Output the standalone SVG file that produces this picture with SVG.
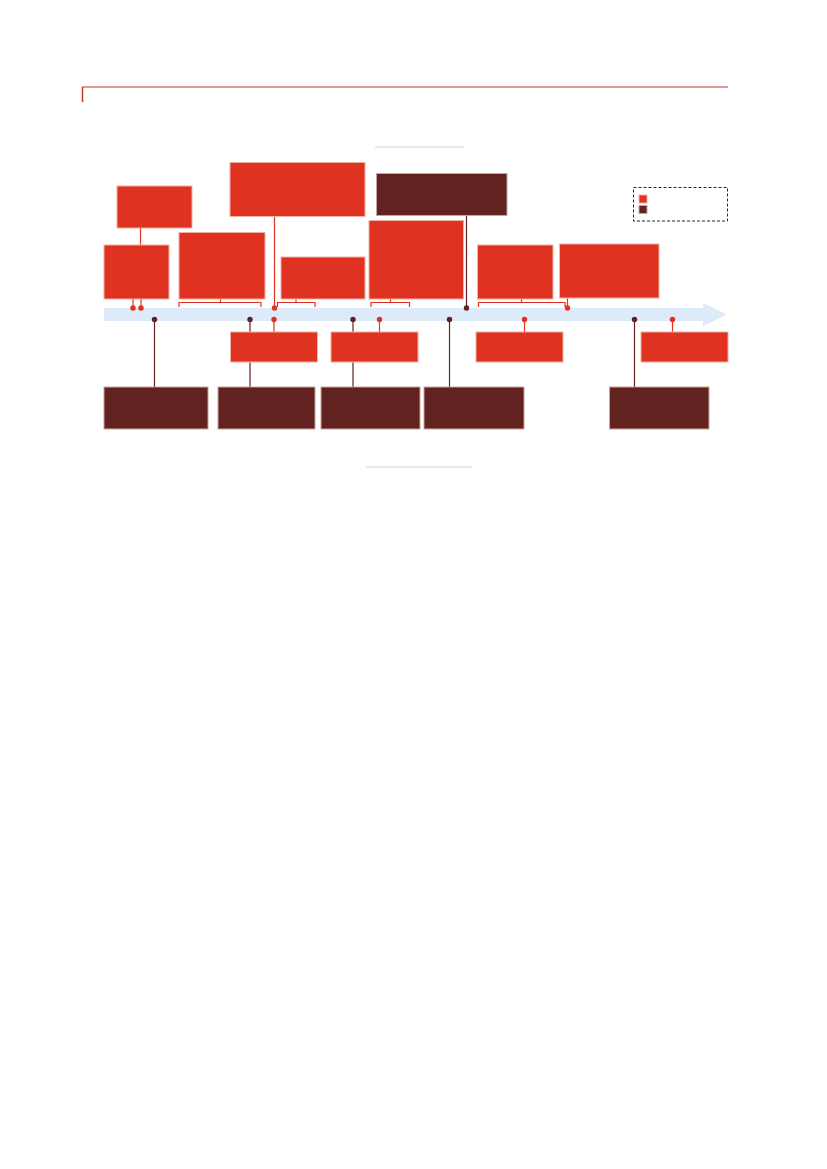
<svg xmlns="http://www.w3.org/2000/svg" width="827" height="1169" viewBox="0 0 827 1169">
<style>
.r{fill:#e03220;stroke:#f3b0a4;stroke-width:1}
.d{fill:#62221f;stroke:#c9a3a1;stroke-width:1}
.lr{stroke:#e03220;stroke-width:1.2;fill:none}
.ld{stroke:#62221f;stroke-width:1.2;fill:none}
.dr{fill:#e03220}
.dd{fill:#62221f}
.rule{stroke:#c5d8ec;stroke-width:1.2}
</style>
<rect width="827" height="1169" fill="#ffffff"/>
<g id="header">
<line x1="82" y1="87" x2="728" y2="87" stroke="#c0392b" stroke-width="1.2"/>
<line x1="82.5" y1="87" x2="82.5" y2="102" stroke="#c0392b" stroke-width="1.5"/>
<line x1="375" y1="147" x2="464" y2="147" class="rule"/>
<line x1="366" y1="467" x2="472" y2="467" class="rule"/>
</g>
<g id="timeline">
<polygon points="104,308 703,308 703,303 727,314.5 703,326 703,321 104,321" fill="#dceafa"/>
</g>
<g id="connectors">
<line x1="140.5" y1="228" x2="140.5" y2="245" class="lr"/>
<line x1="133" y1="299" x2="133" y2="308" class="lr"/>
<line x1="141" y1="299" x2="141" y2="308" class="lr"/>
<path d="M179,307 V302.5 H261 V307 M220.5,299 V302.5" class="lr"/>
<line x1="274.5" y1="217" x2="274.5" y2="308" class="lr"/>
<path d="M277.5,307 V302.5 H315 V307 M296,299 V302.5" class="lr"/>
<path d="M371,307 V302.5 H409.5 V307 M390.5,299 V302.5" class="lr"/>
<line x1="466.5" y1="215" x2="466.5" y2="308" class="ld"/>
<path d="M478.5,307 V302.5 H565 V307 M521.5,299 V302.5" class="lr"/>
<line x1="567.5" y1="298" x2="567.5" y2="308" class="lr"/>
<line x1="154.5" y1="319.5" x2="154.5" y2="387" class="ld"/>
<line x1="250" y1="319.5" x2="250" y2="387" class="ld"/>
<line x1="274" y1="319.5" x2="274" y2="332" class="lr"/>
<line x1="353" y1="319.5" x2="353" y2="387" class="ld"/>
<line x1="379.5" y1="319.5" x2="379.5" y2="332" class="lr"/>
<line x1="449.5" y1="319.5" x2="449.5" y2="387" class="ld"/>
<line x1="524.5" y1="319.5" x2="524.5" y2="332" class="lr"/>
<line x1="634.5" y1="319.5" x2="634.5" y2="387" class="ld"/>
<line x1="672.5" y1="319.5" x2="672.5" y2="332" class="lr"/>
<circle cx="133" cy="308" r="2.7" class="dr"/>
<circle cx="141" cy="308" r="2.7" class="dr"/>
<circle cx="274.5" cy="308" r="2.7" class="dr"/>
<circle cx="466.5" cy="308" r="2.7" class="dd"/>
<circle cx="567.5" cy="308" r="2.7" class="dr"/>
<circle cx="154.5" cy="319.5" r="2.7" class="dd"/>
<circle cx="250" cy="319.5" r="2.7" class="dd"/>
<circle cx="274" cy="319.5" r="2.7" class="dr"/>
<circle cx="353" cy="319.5" r="2.7" class="dd"/>
<circle cx="379.5" cy="319.5" r="2.7" class="dr"/>
<circle cx="449.5" cy="319.5" r="2.7" class="dd"/>
<circle cx="524.5" cy="319.5" r="2.7" class="dr"/>
<circle cx="634.5" cy="319.5" r="2.7" class="dd"/>
<circle cx="672.5" cy="319.5" r="2.7" class="dr"/>
</g>
<g id="nodeA"><rect x="117" y="186" width="75" height="42" class="r"/></g>
<g id="nodeB"><rect x="104" y="245" width="65" height="54" class="r"/></g>
<g id="nodeC"><rect x="179" y="232.5" width="86" height="66.5" class="r"/></g>
<g id="nodeD"><rect x="230" y="162.5" width="135" height="54" class="r"/></g>
<g id="nodeE"><rect x="281" y="257" width="84" height="42" class="r"/></g>
<g id="nodeF"><rect x="369" y="220.5" width="94.5" height="78.5" class="r"/></g>
<g id="nodeG"><rect x="376.5" y="173.5" width="130.5" height="42" class="d"/></g>
<g id="nodeH"><rect x="477.5" y="245" width="75.5" height="54" class="r"/></g>
<g id="nodeI"><rect x="559.5" y="244" width="99.5" height="54" class="r"/></g>
<g id="nodeJ"><rect x="230.5" y="332" width="87" height="30" class="r"/></g>
<g id="nodeK"><rect x="331" y="332" width="87" height="30" class="r"/></g>
<g id="nodeL"><rect x="476" y="332" width="87" height="30" class="r"/></g>
<g id="nodeM"><rect x="641" y="332" width="87" height="30" class="r"/></g>
<g id="nodeN"><rect x="104" y="387" width="104" height="42" class="d"/></g>
<g id="nodeO"><rect x="218" y="387" width="97" height="42" class="d"/></g>
<g id="nodeP"><rect x="321" y="387" width="99" height="42" class="d"/></g>
<g id="nodeQ"><rect x="424" y="387" width="100" height="42" class="d"/></g>
<g id="nodeR"><rect x="609.5" y="387" width="99.5" height="42" class="d"/></g>
<g id="legend">
<rect x="633.5" y="187.5" width="94" height="33.5" fill="none" stroke="#1a2550" stroke-width="1" stroke-dasharray="3,2"/>
<rect x="639" y="195" width="8" height="8" class="r"/>
<rect x="639" y="205.5" width="8" height="8" class="d"/>
</g>
</svg>
